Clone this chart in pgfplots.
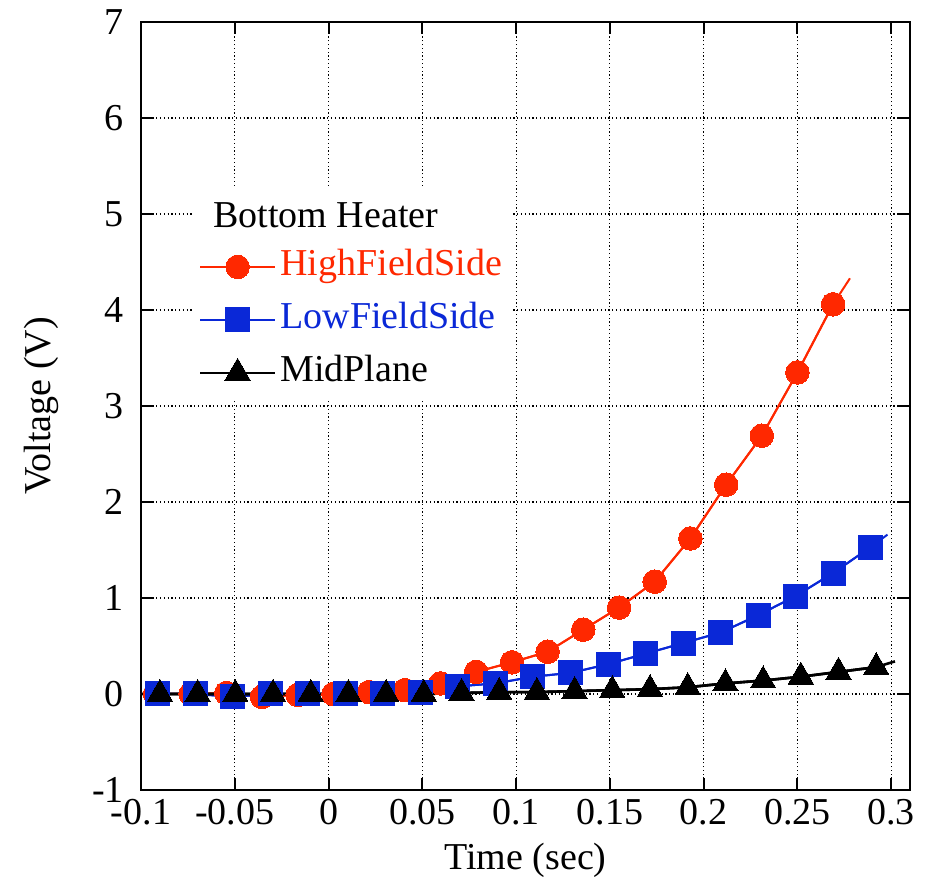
\documentclass[border=0pt]{standalone}
\usepackage{fontspec}
\setmainfont{Liberation Serif}
\usepackage{pgfplots}
\pgfplotsset{compat=1.18}
\definecolor{hfs}{RGB}{255,40,0}
\definecolor{lfs}{RGB}{10,40,215}
\begin{document}
\begin{tikzpicture}
\useasboundingbox (-70.5pt,-48.5pt) rectangle (395.5pt,395pt);
\begin{axis}[
  scale only axis,
  width=384.5pt, height=384pt,
  xmin=-0.1, xmax=0.31, ymin=-1, ymax=7,
  xtick={-0.1,-0.05,0,0.05,0.1,0.15,0.2,0.25,0.3},
  xticklabels={-0.1,-0.05,0,0.05,0.1,0.15,0.2,0.25,0.3},
  ytick={-1,0,1,2,3,4,5,6,7},
  yticklabels={-1,0,1,2,3,4,5,6,7},
  tick align=inside,
  major tick length=6pt,
  every tick/.style={black, line width=1pt},
  axis line style={line width=1pt},
  grid=major,
  major grid style={black, line width=0.6pt, dash pattern=on 0.6pt off 1.3pt},
  tick label style={font=\fontsize{19}{22}\selectfont},
  yticklabel style={xshift=-5pt},
  xticklabel style={yshift=-1pt},
  label style={font=\fontsize{19}{22}\selectfont},
  xlabel={Time (sec)},
  ylabel={Voltage (V)},
  xlabel style={at={(axis description cs:0.5,-0.0911)}, anchor=center},
  ylabel style={at={(axis description cs:-0.1300,0.5)}, anchor=center},
  legend cell align=left,
  legend style={at={(axis cs:-0.0726,5.276)}, anchor=north west, draw=none, fill=white,
    font=\fontsize{19}{22}\selectfont, row sep=4.5pt,
    inner xsep=3pt, inner ysep=2pt,
    nodes={inner sep=2pt, text height=13.5pt, text depth=4.5pt}},
  legend image code/.code={\draw[mark repeat=2,mark phase=2,#1] plot coordinates {(0pt,0pt)(18.75pt,0pt)(37.5pt,0pt)};},
]
\addlegendimage{empty legend}
\addlegendentry{\hspace*{-33.5pt}\raisebox{-2.5pt}{Bottom Heater}}

% HighFieldSide
\addplot[hfs, line width=1pt, forget plot] coordinates {
(-0.1,0.0) (-0.0925,0.0) (-0.0735,0.0) (-0.0545,0.01) (-0.0355,-0.03) (-0.0164,-0.01)
(0.0026,0.0) (0.0216,0.02) (0.0407,0.04) (0.0597,0.11) (0.0787,0.23)
(0.0978,0.33) (0.1168,0.44) (0.1358,0.67) (0.1549,0.90) (0.1739,1.17)
(0.1929,1.62) (0.212,2.18) (0.231,2.69) (0.250,3.35) (0.269,4.06) (0.278,4.33)};
\addplot[hfs, line width=1pt, mark=*, mark size=5.9pt, mark options={solid, fill=hfs, draw=hfs, line width=0pt}] coordinates {
(-0.0925,0.0) (-0.0735,0.0) (-0.0545,0.01) (-0.0355,-0.03) (-0.0164,-0.01)
(0.0026,0.0) (0.0216,0.02) (0.0407,0.04) (0.0597,0.11) (0.0787,0.23)
(0.0978,0.33) (0.1168,0.44) (0.1358,0.67) (0.1549,0.90) (0.1739,1.17)
(0.1929,1.62) (0.212,2.18) (0.231,2.69) (0.250,3.35) (0.269,4.06)};
\addlegendentry{\textcolor{hfs}{HighFieldSide}}

% LowFieldSide
\addplot[lfs, line width=1pt, forget plot] coordinates {
(-0.1,0.0) (-0.091,0.0) (-0.071,0.0) (-0.051,-0.03) (-0.031,0.0) (-0.011,0.0)
(0.009,0.0) (0.029,0.01) (0.049,0.02) (0.069,0.08) (0.089,0.11)
(0.109,0.18) (0.129,0.22) (0.149,0.31) (0.169,0.42) (0.189,0.53)
(0.209,0.64) (0.229,0.82) (0.249,1.02) (0.269,1.26) (0.289,1.53) (0.298,1.66)};
\addplot[lfs, line width=1pt, mark=square*, mark size=6pt, mark options={solid, fill=lfs, draw=lfs, line width=0pt}] coordinates {
(-0.091,0.0) (-0.071,0.0) (-0.051,-0.03) (-0.031,0.0) (-0.011,0.0)
(0.009,0.0) (0.029,0.01) (0.049,0.02) (0.069,0.08) (0.089,0.11)
(0.109,0.18) (0.129,0.22) (0.149,0.31) (0.169,0.42) (0.189,0.53)
(0.209,0.64) (0.229,0.82) (0.249,1.02) (0.269,1.26) (0.289,1.53)};
\addlegendentry{\textcolor{lfs}{LowFieldSide}}

% MidPlane
\addplot[black, line width=1.3pt, forget plot] coordinates {
(-0.1,0.0) (-0.0899,0.0) (-0.0698,0.0) (-0.0497,0.0) (-0.0296,0.0) (-0.0095,0.0)
(0.0106,0.0) (0.0307,0.0) (0.0508,0.0) (0.0709,0.01) (0.091,0.02)
(0.1111,0.02) (0.1312,0.03) (0.1513,0.04) (0.1714,0.05) (0.1915,0.07)
(0.2116,0.11) (0.2317,0.14) (0.2518,0.18) (0.2719,0.23) (0.292,0.28) (0.302,0.34)};
\addplot[black, line width=1.3pt, mark=triangle*, mark size=7.3pt, mark options={solid, fill=black, line width=0pt}] coordinates {
(-0.0899,0.0) (-0.0698,0.0) (-0.0497,0.0) (-0.0296,0.0) (-0.0095,0.0)
(0.0106,0.0) (0.0307,0.0) (0.0508,0.0) (0.0709,0.01) (0.091,0.02)
(0.1111,0.02) (0.1312,0.03) (0.1513,0.04) (0.1714,0.05) (0.1915,0.07)
(0.2116,0.11) (0.2317,0.14) (0.2518,0.18) (0.2719,0.23) (0.292,0.28)};
\addlegendentry{MidPlane}
\end{axis}
\end{tikzpicture}
\end{document}
